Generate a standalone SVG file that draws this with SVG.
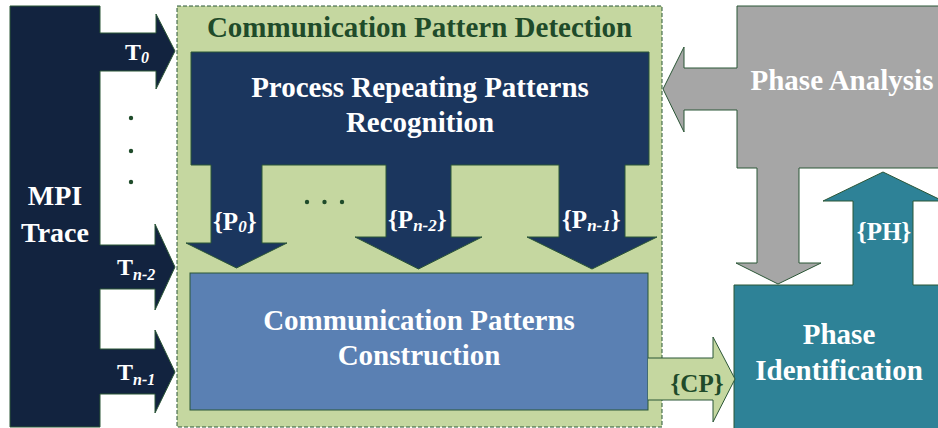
<svg xmlns="http://www.w3.org/2000/svg" width="938" height="428" viewBox="0 0 938 428" font-family="Times New Roman, Liberation Serif, serif" font-weight="bold">
  <rect width="938" height="428" fill="#ffffff"/>

  <!-- Communication Pattern Detection container -->
  <g id="cpd-container">
    <rect x="177" y="6" width="485" height="421" fill="#c5d7a0" stroke="#2b5636" stroke-width="1" stroke-dasharray="4,2"/>
    <text x="419.5" y="37" text-anchor="middle" font-size="29" fill="#1f4b2a">Communication Pattern Detection</text>
  </g>

  <!-- MPI Trace with outgoing trace arrows -->
  <g id="mpi-trace">
    <path stroke="#2b5636" stroke-width="1" fill="#12233f" d="M10,6 H100 V33 H156 V14 L175,51 L156,89 V71 H100 V245 H155 V224 L175,267 L155,310 V289 H100 V349 H155 V330 L175,372 L155,413 V394 H100 V427 H10 Z"/>
    <g fill="#ffffff">
      <text x="55" y="205" font-size="28" text-anchor="middle">MPI</text>
      <text x="55" y="242" font-size="28" text-anchor="middle">Trace</text>
      <text x="125" y="60" font-size="24">T<tspan dy="3" font-size="16" font-style="italic">0</tspan></text>
      <text x="117" y="275" font-size="24">T<tspan dy="5" font-size="16" font-style="italic">n-2</tspan></text>
      <text x="117" y="380" font-size="24">T<tspan dy="5" font-size="16" font-style="italic">n-1</tspan></text>
    </g>
    <g fill="#1f4b2a">
      <circle cx="131" cy="118" r="2.2"/>
      <circle cx="131" cy="151" r="2.2"/>
      <circle cx="131" cy="182" r="2.2"/>
    </g>
  </g>

  <!-- Process Repeating Patterns Recognition with per-process outputs -->
  <g id="prp-recognition">
    <path stroke="#2b5636" stroke-width="1" fill="#1b365e" d="M191,52 H649 V165 H625 V237 H657 L592,269 L527,237 H559 V165 H451 V237 H482 L418.5,269 L355,237 H386 V165 H262 V243 H287 L236.5,268 L186,243 H211 V165 H191 Z"/>
    <g fill="#ffffff">
      <text x="420" y="97" font-size="29" text-anchor="middle">Process Repeating Patterns</text>
      <text x="420" y="132" font-size="29" text-anchor="middle">Recognition</text>
      <text x="213" y="230" font-size="25">{P<tspan dy="2" font-size="17" font-style="italic">0</tspan><tspan dy="-2">}</tspan></text>
      <text x="388" y="228" font-size="25">{P<tspan dy="3" font-size="17" font-style="italic">n-2</tspan><tspan dy="-3">}</tspan></text>
      <text x="562" y="228" font-size="25">{P<tspan dy="3" font-size="17" font-style="italic">n-1</tspan><tspan dy="-3">}</tspan></text>
    </g>
    <g fill="#1f4b2a">
      <circle cx="307" cy="202" r="2.2"/>
      <circle cx="324.5" cy="202" r="2.2"/>
      <circle cx="342" cy="202" r="2.2"/>
    </g>
  </g>

  <!-- Communication Patterns Construction -->
  <g id="cp-construction">
    <rect x="190" y="273" width="458" height="137" fill="#5a80b3" stroke="#2b5636" stroke-width="1"/>
    <g fill="#ffffff" font-size="29" text-anchor="middle">
      <text x="419" y="330">Communication Patterns</text>
      <text x="419" y="365">Construction</text>
    </g>
  </g>

  <!-- Phase Analysis with feedback arrows -->
  <g id="phase-analysis">
    <path stroke="#2b5636" stroke-width="1" fill="#a6a6a6" d="M737,6 H942 V168 H799 V263 H821 L778,284 L736,263 H757 V168 H737 V110 H684 V132 L663,89 L684,47 V68 H737 Z"/>
    <text x="842" y="90" text-anchor="middle" font-size="29" fill="#ffffff">Phase Analysis</text>
  </g>

  <!-- Phase Identification with {PH} output -->
  <g id="phase-identification">
    <path stroke="#2b5636" stroke-width="1" fill="#2e8297" d="M734,285 H853 V201 H823 L883,172 L943,201 H913 V285 H942 V432 H734 Z"/>
    <g fill="#ffffff" text-anchor="middle">
      <text x="884" y="240" font-size="25">{PH}</text>
      <text x="839" y="344" font-size="29">Phase</text>
      <text x="839" y="380" font-size="29">Identification</text>
    </g>
  </g>

  <!-- Connectors -->
  <g id="connectors">
    <path id="cp-flow" stroke="#2b5636" stroke-width="1" fill="#c5d7a0" d="M648,358 H713 V337 L735,379 L713,422 V400 H648"/>
    <text x="697" y="392" text-anchor="middle" font-size="25" fill="#1f4b2a">{CP}</text>
  </g>
</svg>
